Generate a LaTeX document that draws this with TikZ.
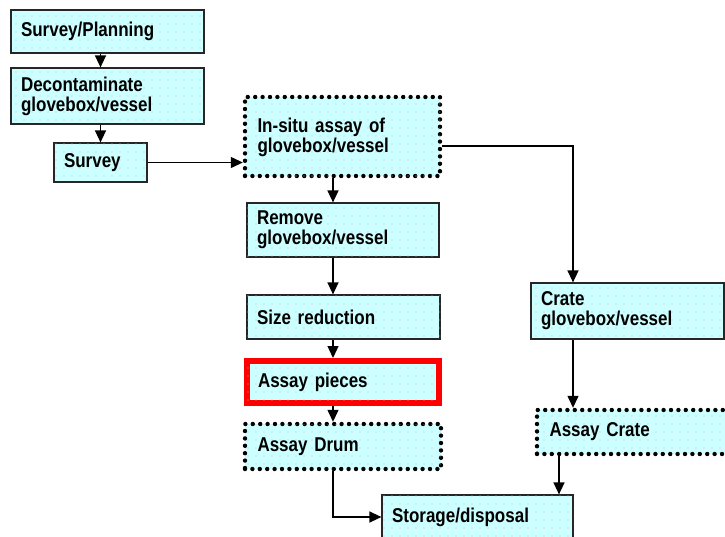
\documentclass[tikz,border=0pt]{standalone}
\usepackage{fontspec}
\setmainfont{Liberation Sans}[FakeStretch=0.85]
\usepackage{xcolor}
\usetikzlibrary{arrows.meta,patterns}
\definecolor{boxcyan}{RGB}{204,255,255}
\definecolor{dotpink}{RGB}{235,180,190}
\pgfdeclarepatternformonly{sparsedots}{\pgfqpoint{-1pt}{-1pt}}{\pgfqpoint{1pt}{1pt}}{\pgfqpoint{8pt}{8pt}}{%
  \pgfpathcircle{\pgfqpoint{0pt}{0pt}}{0.6pt}\pgfusepath{fill}}

\begin{document}
\begin{tikzpicture}[x=1pt,y=-1pt]
    \tikzstyle{box}=[rectangle,draw=black!85,line width=1.2pt,fill=boxcyan,
        postaction={pattern=sparsedots,pattern color=dotpink},
        align=left,inner xsep=10pt,inner ysep=0pt,
        font=\fontsize{20}{20}\selectfont\bfseries]
    \tikzstyle{dotbox}=[box,draw=black,line width=4.4pt,line cap=round,dash pattern=on 0pt off 7.4pt]
    \tikzstyle{redbox}=[box,draw=red,line width=6pt]
    \tikzstyle{arr}=[-{Triangle[length=12pt,width=11pt]},line width=1.3pt]

    \useasboundingbox (0,0) rectangle (725,536);
    \clip (0,0) rectangle (725,536);

    % Left column
    \node [box,minimum width=193,text width=173,minimum height=43] (plan) at (107.5,31.5) {Survey/Planning};
    \node [box,minimum width=193,text width=173,minimum height=56] (decon) at (107.5,96) {Decontaminate\\glovebox/vessel};
    \node [box,minimum width=93,text width=73,minimum height=39] (survey) at (100.5,162.5) {Survey};

    % Middle column
    \node [dotbox,minimum width=195,text width=170,minimum height=79,text depth=22pt] (insitu) at (342.5,136.5) {In-situ assay of\\glovebox/vessel};
    \node [box,minimum width=192,text width=172,minimum height=54] (remove) at (343,230) {Remove\\glovebox/vessel};
    \node [box,minimum width=193,text width=173,minimum height=44] (size) at (343.5,317) {Size reduction};
    \node [redbox,minimum width=192,text width=170,minimum height=42] (pieces) at (343,382) {Assay pieces};
    \node [dotbox,minimum width=196,text width=171,minimum height=45] (drum) at (343,446.5) {Assay Drum};
    \node [box,minimum width=191,text width=171,minimum height=44] (storage) at (477.5,517) {Storage/disposal};

    % Right column
    \node [box,minimum width=193,text width=173,minimum height=56] (crate) at (627.5,311) {Crate\\glovebox/vessel};
    \node [dotbox,minimum width=193,text width=168,minimum height=44] (assaycrate) at (633.5,432) {Assay Crate};

    \coordinate (col) at (333,0);
    \coordinate (turn) at (573,146);
    \coordinate (drop) at (559,0);

    % Draw arrows
    \draw [arr] (plan.south -| survey.north) -- (decon.north -| survey.north);
    \draw [arr] (decon.south -| survey.north) -- (survey.north);
    \draw [arr] (survey.east) -- (survey.east -| insitu.west);
    \draw [arr] (insitu.east |- turn) -- (turn) -- (turn |- crate.north);
    \draw [arr] (insitu.south -| col) -- (remove.north -| col);
    \draw [arr] (remove.south -| col) -- (size.north -| col);
    \draw [arr] (size.south -| col) -- (pieces.north -| col);
    \draw [arr] (pieces.south -| col) -- (drum.north -| col);
    \draw [arr] (drum.south -| col) |- (storage.west);
    \draw [arr] (crate.south -| turn) -- (assaycrate.north -| turn);
    \draw [arr] (assaycrate.south -| drop) -- (storage.north -| drop);
\end{tikzpicture}
\end{document}
